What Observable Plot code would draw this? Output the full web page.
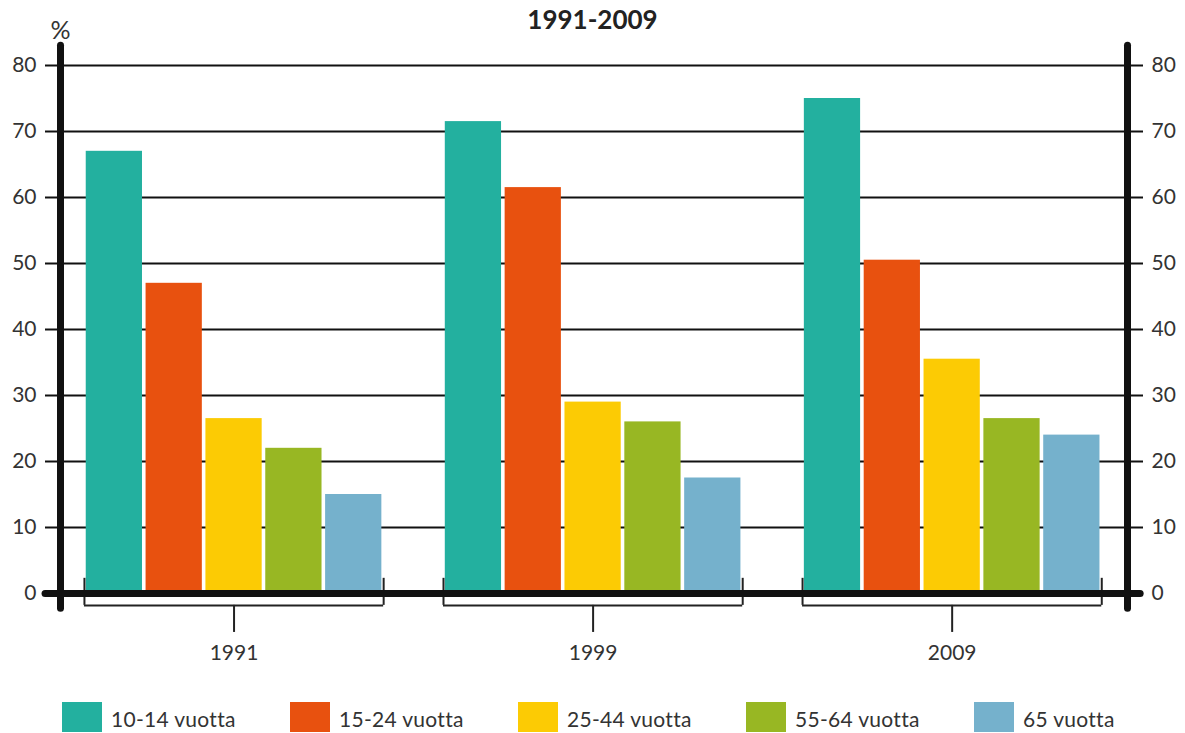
<!DOCTYPE html>
<html><head><meta charset="utf-8">
<script src="https://cdn.jsdelivr.net/npm/d3@7"></script>
<script src="https://cdn.jsdelivr.net/npm/@observablehq/plot@0.6"></script>
<style>
body{margin:0;background:#fff;overflow:hidden}
#wrap{position:relative;width:1185px;height:733px;overflow:hidden;font-family:Lato,"Open Sans",sans-serif}
#title{position:absolute;top:3px;left:0;width:1185px;text-align:center;font:bold 26px Lato,sans-serif;color:#222;line-height:1.25}
#chart{position:absolute;top:0;left:0}
#legend{position:absolute;top:702px;left:62px;display:flex}
.item{display:flex;align-items:flex-start;width:228px}
.sw{width:40px;height:30px;margin-right:9px}
.lab{font-size:21px;color:#333;margin-top:4px;letter-spacing:0.3px;line-height:1.2}
</style></head>
<body><div id="wrap"><div id="chart"></div><div id="title">1991-2009</div><div id="legend"></div></div>
<script>
const years = ["1991", "1999", "2009"];
const ages = ["10-14 vuotta", "15-24 vuotta", "25-44 vuotta", "55-64 vuotta", "65 vuotta"];
const colors = ["#23b09f", "#e8510f", "#fccb04", "#98b723", "#75b1cc"];
const v10_14 = [67, 71.5, 75];
const v15_24 = [47, 61.5, 50.5];
const v25_44 = [26.5, 29, 35.5];
const v55_64 = [22, 26, 26.5];
const v65 = [15, 17.5, 24];
const yTicks = [0, 10, 20, 30, 40, 50, 60, 70, 80];

const series = [v10_14, v15_24, v25_44, v55_64, v65];
const step = ages.length + 1;
const rows = [];
years.forEach((year, g) => ages.forEach((age, a) => rows.push({year, age, value: series[a][g], slot: g * step + a})));
const groups = years.map((year, g) => ({year, first: g * step, last: g * step + ages.length - 1, mid: g * step + (ages.length - 1) / 2}));
const xMin = -0.9, xMax = (years.length - 1) * step + ages.length - 1 + 0.93;

const chart = Plot.plot({
  width: 1185, height: 680,
  marginTop: 65, marginBottom: 87, marginLeft: 60, marginRight: 58,
  style: {fontFamily: "Lato, 'Open Sans', sans-serif", background: "transparent"},
  x: {type: "linear", domain: [xMin, xMax], axis: null},
  y: {domain: [0, 80], axis: null},
  color: {domain: ages, range: colors},
  marks: [
    Plot.gridY(yTicks, {stroke: "#111", strokeOpacity: 1, strokeWidth: 2}),
    Plot.axisY(yTicks, {anchor: "left", tickSize: 15, tickPadding: 9, fontSize: 21, fill: "#333", stroke: "#111", strokeWidth: 2, label: null}),
    Plot.axisY(yTicks, {anchor: "right", tickSize: 15, tickPadding: 9, fontSize: 21, fill: "#333", stroke: "#111", strokeWidth: 2, label: null}),
    Plot.rectY(rows, {x1: d => d.slot - 0.47, x2: d => d.slot + 0.47, y: "value", fill: "age"}),
    Plot.ruleY(groups, {y: -1.8, x1: d => d.first - 0.5, x2: d => d.last + 0.5, stroke: "#222", strokeWidth: 2}),
    Plot.ruleX(groups, {x: d => d.first - 0.5, y1: -1.8, y2: 2.3, stroke: "#222", strokeWidth: 2}),
    Plot.ruleX(groups, {x: d => d.last + 0.5, y1: -1.8, y2: 2.3, stroke: "#222", strokeWidth: 2}),
    Plot.ruleX(groups, {x: "mid", y1: -1.8, y2: -5.9, stroke: "#222", strokeWidth: 2}),
    Plot.text(groups, {x: "mid", y: -9, text: "year", fontSize: 21, fill: "#333"}),
    Plot.ruleY([0], {x1: xMin - 0.25, x2: xMax + 0.22, stroke: "#111", strokeWidth: 7, strokeLinecap: "round"}),
    Plot.ruleX([xMin, xMax], {y1: -2.3, y2: 83, stroke: "#111", strokeWidth: 7, strokeLinecap: "round"}),
    Plot.text(["%"], {x: xMin, y: 85.2, text: d => d, fontSize: 25, fill: "#333"})
  ]
});
document.getElementById("chart").appendChild(chart);

const legend = document.getElementById("legend");
ages.forEach((age, i) => {
  const it = document.createElement("div"); it.className = "item";
  const sw = document.createElement("div"); sw.className = "sw"; sw.style.background = colors[i];
  const lb = document.createElement("div"); lb.className = "lab"; lb.textContent = age;
  it.appendChild(sw); it.appendChild(lb); legend.appendChild(it);
});
</script></body></html>
